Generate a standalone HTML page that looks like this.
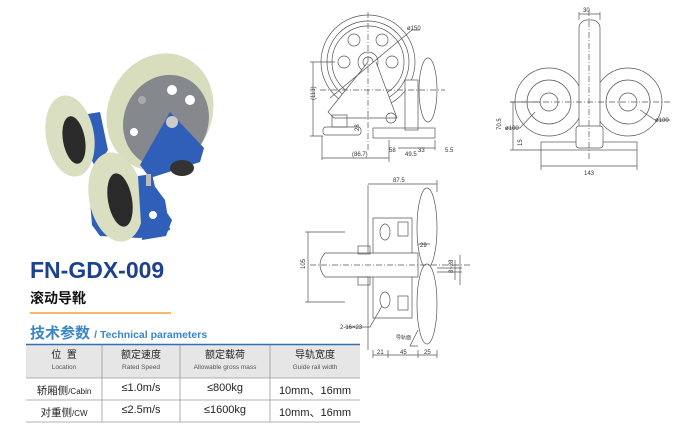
<!DOCTYPE html>
<html><head><meta charset="utf-8"><style>
body{margin:0;background:#fff;width:700px;height:446px;overflow:hidden;position:relative;font-family:"Liberation Sans","Noto Sans CJK SC",sans-serif}
.a{position:absolute;white-space:nowrap}
</style></head><body>
<svg class="a" style="left:0;top:0" width="700" height="446" viewBox="0 0 700 446">
<!-- photo -->
<g>
<path d="M82 115 L100 112 L108 150 L96 168 L86 150Z" fill="#2f5fb8"/>
<path d="M90 200 L150 180 L165 200 L170 230 L140 238 L100 236 L92 225Z" fill="#2f5fb8"/>
<ellipse cx="70" cy="136" rx="24" ry="41" fill="#d9dfc0" transform="rotate(-10 70 136)"/>
<ellipse cx="74" cy="140" rx="11" ry="24" fill="#2a2a2a" transform="rotate(-10 74 140)"/>
<ellipse cx="160" cy="112" rx="52" ry="60" fill="#d7ddbd" transform="rotate(25 160 112)"/>
<ellipse cx="166" cy="121" rx="42" ry="47" fill="#85888c" transform="rotate(25 166 121)"/>
<circle cx="172" cy="90" r="5" fill="#fff"/><circle cx="190" cy="100" r="5" fill="#fff"/><circle cx="134" cy="132" r="4" fill="#fff"/><circle cx="142" cy="100" r="4" fill="#aaa"/>
<path d="M170 112 L204 148 L200 162 L150 178 L140 165Z" fill="#2f5fb8"/>
<circle cx="172" cy="122" r="6" fill="#ccc"/>
<ellipse cx="182" cy="168" rx="12" ry="8" fill="#333"/>
<ellipse cx="116" cy="197" rx="27" ry="45" fill="#d9dfc0" transform="rotate(-10 116 197)"/>
<ellipse cx="120" cy="200" rx="12" ry="27" fill="#2a2a2a" transform="rotate(-10 120 200)"/>
<path d="M138 176 L152 174 L158 200 L172 220 L166 236 L142 240Z" fill="#2f5fb8"/>
<circle cx="153" cy="215" r="4" fill="#fff"/>
<rect x="146" y="174" width="5" height="12" fill="#bbb"/>
</g>
<!-- drawing 1 -->
<g fill="none" stroke="#555" stroke-width="0.7">
<circle cx="368" cy="62" r="47"/><circle cx="368" cy="62" r="41"/><circle cx="368" cy="62" r="36"/>
<circle cx="368" cy="62" r="10"/><circle cx="368" cy="62" r="5"/>
<circle cx="354" cy="40" r="6"/><circle cx="382" cy="40" r="6"/><circle cx="344" cy="62" r="6"/><circle cx="392" cy="62" r="6"/>
<path d="M368 62 L328 112 L334 118 L397 118 L376 62" fill="#fff"/>
<rect x="405" y="80" width="13" height="50" fill="#fff"/>
<ellipse cx="428" cy="90" rx="9" ry="32" fill="#fff"/>
<rect x="373" y="128" width="62" height="10"/>
<rect x="323" y="127" width="38" height="8" rx="3" fill="#fff"/>
<rect x="332" y="115" width="15" height="12"/>
<circle cx="391" cy="118" r="5"/>
<path d="M310 62 L335 62 M310 136 L323 136 M313 62 L313 136 M322 136 L322 160 M389 140 L389 162 M435 140 L435 150 M322 158 L389 158 M398 148 L435 148"/>
<path d="M368 12 L368 150 M320 90 L445 90" stroke-dasharray="6 2 1 2"/>
<path d="M330 98 L412 30 L420 30"/>
</g>
<!-- drawing 2 -->
<g fill="none" stroke="#555" stroke-width="0.7">
<circle cx="549" cy="102" r="34"/><circle cx="549" cy="102" r="22"/><circle cx="549" cy="102" r="9"/>
<circle cx="628" cy="102" r="34"/><circle cx="628" cy="102" r="22"/><circle cx="628" cy="102" r="9"/>
<rect x="541" y="142" width="96" height="8"/>
<rect x="579" y="20" width="21" height="122" rx="8" fill="#fff"/>
<rect x="576" y="126" width="27" height="22" rx="3" fill="#fff"/>
<path d="M579 12 L579 20 M600 12 L600 20 M579 14 L600 14 M541 150 L541 170 M637 150 L637 170 M541 166 L637 166 M510 102 L540 102 M510 150 L541 150 M513 102 L513 150"/>
<path d="M589 10 L589 160 M510 102 L670 102" stroke-dasharray="6 2 1 2"/>
<path d="M640 110 L655 120 L670 120 M535 112 L520 128 L505 128"/>
</g>
<!-- drawing 3 -->
<g fill="none" stroke="#555" stroke-width="0.7">
<path d="M368 185 L368 350"/>
<path d="M373 218 L412 218 L412 318 L373 318 Z" fill="#fff"/>
<path d="M325 253 L418 253 L418 277 L325 277 Q315 265 325 253Z" fill="#fff"/>
<ellipse cx="427" cy="228" rx="10" ry="40" fill="#fff"/>
<ellipse cx="427" cy="304" rx="10" ry="40" fill="#fff"/>
<ellipse cx="385" cy="232" rx="5" ry="8"/><ellipse cx="385" cy="300" rx="5" ry="8"/>
<rect x="358" y="246" width="12" height="8"/><rect x="358" y="277" width="12" height="8"/>
<rect x="398" y="222" width="10" height="14"/><rect x="398" y="296" width="10" height="14"/>
<path d="M368 184 L437 184 M437 180 L437 192 M305 232 L345 232 M305 302 L345 302 M308 232 L308 302 M373 350 L373 358 M388 350 L388 358 M418 350 L418 358 M437 350 L437 358 M373 355 L437 355 M437 268 L462 268 M437 272 L462 272 M455 260 L455 280 M460 255 L460 285 M418 244 L430 244"/>
<path d="M310 265 L470 265" stroke-dasharray="6 2 1 2"/>
<path d="M345 327 L370 327 L382 306 M418 346 L410 346 L418 330"/>
</g>
<g font-size="6" fill="#333" font-family="Liberation Sans,sans-serif">
<text x="407" y="30">ø150</text><text x="305" y="110" transform="rotate(-90 305 100)">(113)</text>
<text x="353" y="131" transform="rotate(-90 356 128)">28</text><text x="389" y="152">58</text><text x="418" y="152">33</text><text x="445" y="152">5.5</text>
<text x="352" y="156">(86.7)</text><text x="405" y="156">49.5</text>
<text x="583" y="12">30</text><text x="505" y="130">ø100</text><text x="655" y="122">ø100</text>
<text x="495" y="130" transform="rotate(-90 498 127)">70.5</text><text x="520" y="148" transform="rotate(-90 520 146)">15</text><text x="584" y="175">143</text>
<text x="393" y="182">87.5</text><text x="300" y="270" transform="rotate(-90 302 267)">105</text>
<text x="420" y="247">29</text><text x="340" y="329">2-16×23</text><text x="396" y="339" font-size="5">导轨面</text>
<text x="377" y="354">21</text><text x="400" y="354">45</text><text x="424" y="354">25</text>
<text x="445" y="275" transform="rotate(-90 448 270)">8~28</text>
</g>
<line x1="30" y1="313" x2="171" y2="313" stroke="#f0a040" stroke-width="1.5"/>
<rect x="26" y="345" width="334" height="33" fill="#e6e6e6"/>
<line x1="26" y1="344.5" x2="360" y2="344.5" stroke="#2f6fb5" stroke-width="1.5"/>
<g stroke="#999" stroke-width="0.8">
<line x1="26" y1="378" x2="360" y2="378"/><line x1="26" y1="400" x2="360" y2="400"/><line x1="26" y1="422" x2="360" y2="422"/>
<line x1="102" y1="345" x2="102" y2="422"/><line x1="180" y1="345" x2="180" y2="422"/><line x1="270" y1="345" x2="270" y2="422"/>
</g>
</svg>
<div class="a" style="left:30px;top:257px;font-size:23px;font-weight:bold;color:#1c418f">FN-GDX-009</div>
<div class="a" style="left:30px;top:288px;font-size:14px;font-weight:bold;color:#111">滚动导靴</div>
<div class="a" style="left:30px;top:322px;font-size:15px;font-weight:bold;color:#3a86c8">技术参数 <span style="font-size:10.5px">/ Technical parameters</span></div>
<div class="a" style="left:26px;top:350px;width:76px;text-align:center;font-size:10px;line-height:11px;color:#222">位&nbsp;&nbsp;置<br><span style="font-size:6.5px;color:#555">Location</span></div>
<div class="a" style="left:102px;top:350px;width:78px;text-align:center;font-size:10px;line-height:11px;color:#222">额定速度<br><span style="font-size:6.5px;color:#555">Rated Speed</span></div>
<div class="a" style="left:180px;top:350px;width:90px;text-align:center;font-size:10px;line-height:11px;color:#222">额定载荷<br><span style="font-size:6.5px;color:#555">Allowable gross mass</span></div>
<div class="a" style="left:270px;top:350px;width:90px;text-align:center;font-size:10px;line-height:11px;color:#222">导轨宽度<br><span style="font-size:6.5px;color:#555">Guide rail width</span></div>
<div class="a" style="left:26px;top:383px;width:76px;text-align:center;font-size:10.5px;color:#222">轿厢侧<span style="font-size:8px">/Cabin</span></div>
<div class="a" style="left:102px;top:382px;width:78px;text-align:center;font-size:11px;color:#222">≤1.0m/s</div>
<div class="a" style="left:180px;top:382px;width:90px;text-align:center;font-size:11px;color:#222">≤800kg</div>
<div class="a" style="left:270px;top:382px;width:90px;text-align:center;font-size:11px;color:#222">10mm、16mm</div>
<div class="a" style="left:26px;top:405px;width:76px;text-align:center;font-size:10.5px;color:#222">对重侧<span style="font-size:8px">/CW</span></div>
<div class="a" style="left:102px;top:404px;width:78px;text-align:center;font-size:11px;color:#222">≤2.5m/s</div>
<div class="a" style="left:180px;top:404px;width:90px;text-align:center;font-size:11px;color:#222">≤1600kg</div>
<div class="a" style="left:270px;top:404px;width:90px;text-align:center;font-size:11px;color:#222">10mm、16mm</div>
</body></html>
